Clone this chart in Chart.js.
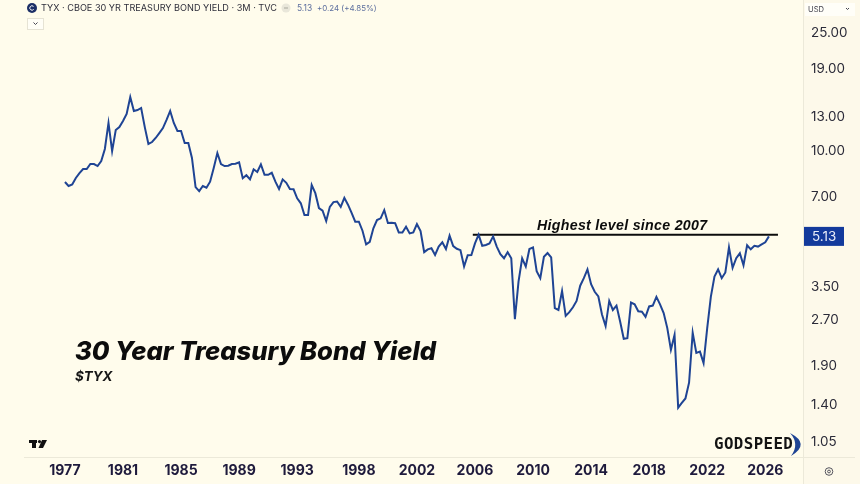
<!DOCTYPE html>
<html>
<head>
<meta charset="utf-8">
<title>TYX 30 Year Treasury Bond Yield</title>
<script src="https://cdn.jsdelivr.net/npm/chart.js@4"></script>
<style>
  html, body { margin: 0; padding: 0; background: #fffcec; }
  canvas { display: block; }
</style>
</head>
<body>
<canvas id="yieldChart" width="860" height="484"></canvas>
<script>
// quarterly closes, one per 3M bar
const yieldCloses = [
  7.82, 7.58, 7.67, 8.07, 8.38, 8.65, 8.65, 8.99, 8.99, 8.85, 9.20, 10.10, 12.36, 9.94, 11.70, 11.97,
  12.55, 13.25, 15.10, 13.56, 13.66, 13.88, 11.97, 10.50, 10.66, 11.00, 11.43, 11.88, 12.65, 13.56, 12.36, 11.61,
  11.61, 10.58, 10.58, 9.42, 7.52, 7.29, 7.58, 7.48, 7.84, 8.72, 9.79, 8.99, 8.85, 8.87, 8.99, 9.01,
  9.11, 8.05, 8.24, 7.98, 8.63, 8.45, 8.97, 8.27, 8.27, 8.40, 7.84, 7.41, 7.98, 7.77, 7.41, 7.39,
  6.89, 6.63, 6.05, 6.05, 7.64, 7.17, 6.39, 6.26, 5.78, 6.45, 6.69, 6.72, 6.45, 6.92, 6.56, 6.16,
  5.75, 5.75, 5.36, 4.82, 4.92, 5.46, 5.82, 5.90, 6.29, 5.69, 5.70, 5.68, 5.29, 5.29, 5.53, 5.25,
  5.29, 5.64, 5.35, 4.54, 4.64, 4.68, 4.44, 4.74, 4.90, 4.65, 5.16, 4.76, 4.66, 4.61, 4.06, 4.43,
  4.44, 4.86, 5.20, 4.77, 4.80, 4.86, 5.13, 4.74, 4.47, 4.33, 4.54, 4.33, 2.70, 3.61, 4.33, 4.06,
  4.65, 4.71, 3.92, 3.71, 4.38, 4.51, 4.36, 2.94, 2.90, 3.36, 2.77, 2.85, 2.96, 3.11, 3.50, 3.71,
  3.97, 3.54, 3.34, 3.22, 2.80, 2.56, 3.11, 2.90, 3.00, 2.65, 2.32, 2.33, 3.07, 3.03, 2.87, 2.86,
  2.75, 2.98, 3.00, 3.21, 3.03, 2.83, 2.52, 2.13, 2.39, 1.36, 1.41, 1.46, 1.65, 2.43, 2.08, 2.10,
  1.92, 2.52, 3.21, 3.76, 3.97, 3.71, 3.88, 4.71, 4.02, 4.33, 4.50, 4.10, 4.79, 4.64, 4.77, 4.74,
  4.82, 4.90, 5.13
];

const yearLabels = ["1977", "1981", "1985", "1989", "1993", "1998", "2002", "2006", "2010", "2014", "2018", "2022", "2026"];
const yearBars = [0, 16, 32, 48, 64, 81, 97, 113, 129, 145, 161, 177, 193];
const priceTicks = [25, 19, 13, 10, 7, 3.5, 2.7, 1.9, 1.4, 1.05];

const lastClose = 5.13;
const highLevel = 5.2;
const highLevelBars = [112.4, 196.5];

const bg = "#fffcec";
const lineBlue = "#1f4494";
const ink = "#1e1a3c";
const rule = "#ece9d9";

function text(ctx, str, x, y, font, color, spacing) {
  ctx.font = font;
  ctx.fillStyle = color;
  ctx.letterSpacing = spacing || "0px";
  ctx.textAlign = "left";
  ctx.textBaseline = "middle";
  ctx.fillText(str, x, y);
  ctx.letterSpacing = "0px";
}

// tick labels would otherwise push the plot area in from the canvas edge
function noPadding(scale) {
  scale.paddingTop = 0;
  scale.paddingBottom = 0;
  scale.paddingLeft = 0;
  scale.paddingRight = 0;
}

// page furniture: background, separators, header, notes, logos
const furniture = {
  id: "furniture",
  beforeDraw(chart) {
    const ctx = chart.ctx;
    ctx.save();
    ctx.fillStyle = bg;
    ctx.fillRect(0, 0, 860, 484);
    ctx.fillStyle = "#fdf9ea";
    ctx.fillRect(804, 0, 56, 484);
    ctx.fillStyle = rule;
    ctx.fillRect(24, 457, 831, 1);
    ctx.fillRect(803, 0, 1, 484);
    ctx.restore();
  },
  afterDraw(chart) {
    const ctx = chart.ctx;
    ctx.save();

    // header row
    ctx.fillStyle = "#1c2f66";
    ctx.beginPath();
    ctx.arc(32, 8, 5, 0, Math.PI * 2);
    ctx.fill();
    ctx.strokeStyle = "#ffffff";
    ctx.lineWidth = 1;
    ctx.beginPath();
    ctx.arc(32, 8, 2.2, 0.7, Math.PI * 2 - 0.7);
    ctx.stroke();
    text(ctx, "TYX · CBOE 30 YR TREASURY BOND YIELD · 3M · TVC", 41, 8.5, "9.15px Inter", "#2e2e3a");
    ctx.fillStyle = "#e9e7da";
    ctx.beginPath();
    ctx.arc(286, 8, 4.5, 0, Math.PI * 2);
    ctx.fill();
    ctx.fillStyle = "#a8a89c";
    ctx.fillRect(284, 7.5, 4, 1);
    text(ctx, "5.13", 297, 8.5, "8.4px Inter", "#5d6f9e");
    text(ctx, "+0.24 (+4.85%)", 317, 8.5, "7.9px Inter", "#5d6f9e");

    // collapse button under the header
    ctx.fillStyle = "#fffef6";
    ctx.fillRect(27, 18, 17, 12);
    ctx.strokeStyle = "#e6e3d4";
    ctx.strokeRect(27.5, 18.5, 16, 11);
    ctx.strokeStyle = "#444450";
    ctx.beginPath();
    ctx.moveTo(33.5, 22.5);
    ctx.lineTo(35.5, 24.5);
    ctx.lineTo(37.5, 22.5);
    ctx.stroke();

    // currency selector
    ctx.fillStyle = "#fffef8";
    ctx.fillRect(805, 3, 50, 13);
    text(ctx, "USD", 808, 9.5, "7.6px Inter", "#44444f");
    ctx.strokeStyle = "#44444f";
    ctx.beginPath();
    ctx.moveTo(846, 8);
    ctx.lineTo(847.5, 9.5);
    ctx.lineTo(849, 8);
    ctx.stroke();

    // last price badge
    const yScale = chart.scales.y;
    const badgeY = yScale.getPixelForValue(lastClose);
    ctx.fillStyle = "#133a9c";
    ctx.fillRect(804, badgeY - 9.5, 40, 19);
    text(ctx, lastClose.toFixed(2), 812, badgeY + 0.5, "13.4px Inter", "#e8ecf8");

    // notes on the chart
    text(ctx, "Highest level since 2007", 537, 226, "italic bold 14.2px 'Liberation Sans'", "#0c0c0c", "0.3px");
    text(ctx, "30 Year Treasury Bond Yield", 75, 352.5, "italic 800 25.6px Inter", "#0c0c0c");
    text(ctx, "$TYX", 75, 376.5, "italic bold 13.4px Inter", "#161616");

    // TradingView mark
    ctx.fillStyle = "#111111";
    ctx.fillRect(29, 440, 8, 3);
    ctx.fillRect(32, 440, 4, 8);
    ctx.beginPath();
    ctx.arc(39.5, 441.6, 1.6, 0, Math.PI * 2);
    ctx.fill();
    ctx.beginPath();
    ctx.moveTo(42, 440);
    ctx.lineTo(47, 440);
    ctx.lineTo(43, 448);
    ctx.lineTo(38.5, 448);
    ctx.fill();

    // Godspeed wordmark with its crescent
    text(ctx, "GODSPEED", 714, 444.5, "bold 15.8px 'DejaVu Sans Mono'", "#141414", "0.4px");
    ctx.fillStyle = lineBlue;
    ctx.beginPath();
    ctx.moveTo(790, 433);
    ctx.quadraticCurveTo(811, 444, 791, 456);
    ctx.quadraticCurveTo(800, 444, 790, 433);
    ctx.fill();

    // settings glyph in the corner
    ctx.strokeStyle = "#55555f";
    ctx.lineWidth = 1;
    ctx.beginPath();
    ctx.arc(829, 471.5, 3.8, 0, Math.PI * 2);
    ctx.stroke();
    ctx.beginPath();
    ctx.arc(829, 471.5, 1.4, 0, Math.PI * 2);
    ctx.stroke();

    ctx.restore();
  }
};

new Chart(document.getElementById("yieldChart").getContext("2d"), {
  type: "line",
  data: {
    datasets: [
      {
        label: "TYX",
        data: yieldCloses.map((v, i) => ({ x: i, y: v })),
        borderColor: lineBlue,
        borderWidth: 2,
        pointRadius: 0,
        tension: 0
      },
      {
        label: "Highest level since 2007",
        data: highLevelBars.map((b) => ({ x: b, y: highLevel })),
        borderColor: "#0c0c0c",
        borderWidth: 2,
        pointRadius: 0
      }
    ]
  },
  options: {
    responsive: false,
    animation: false,
    layout: { padding: 0 },
    plugins: { legend: { display: false }, tooltip: { enabled: false } },
    scales: {
      x: {
        type: "linear",
        min: -17.9,
        max: 203.4,
        grid: { display: false, drawTicks: false },
        border: { display: false },
        afterBuildTicks(scale) {
          scale.ticks = yearBars.map((b) => ({ value: b }));
        },
        afterFit(scale) {
          scale.height = 27;
          noPadding(scale);
        },
        ticks: {
          autoSkip: false,
          maxRotation: 0,
          padding: 5,
          color: ink,
          font: { family: "Inter", size: 14, weight: "bold" },
          callback: (value) => yearLabels[yearBars.indexOf(value)]
        }
      },
      y: {
        type: "logarithmic",
        position: "right",
        min: 0.9276,
        max: 32.06,
        grid: { display: false, drawTicks: false },
        border: { display: false },
        afterBuildTicks(scale) {
          scale.ticks = priceTicks.map((p) => ({ value: p }));
        },
        afterFit(scale) {
          scale.width = 57;
          noPadding(scale);
        },
        ticks: {
          autoSkip: false,
          padding: 8,
          labelOffset: 1,
          color: "#2a2a38",
          font: { family: "Inter", size: 13.4 },
          callback: (value) => value.toFixed(2)
        }
      }
    }
  },
  plugins: [furniture]
});
</script>
</body>
</html>
